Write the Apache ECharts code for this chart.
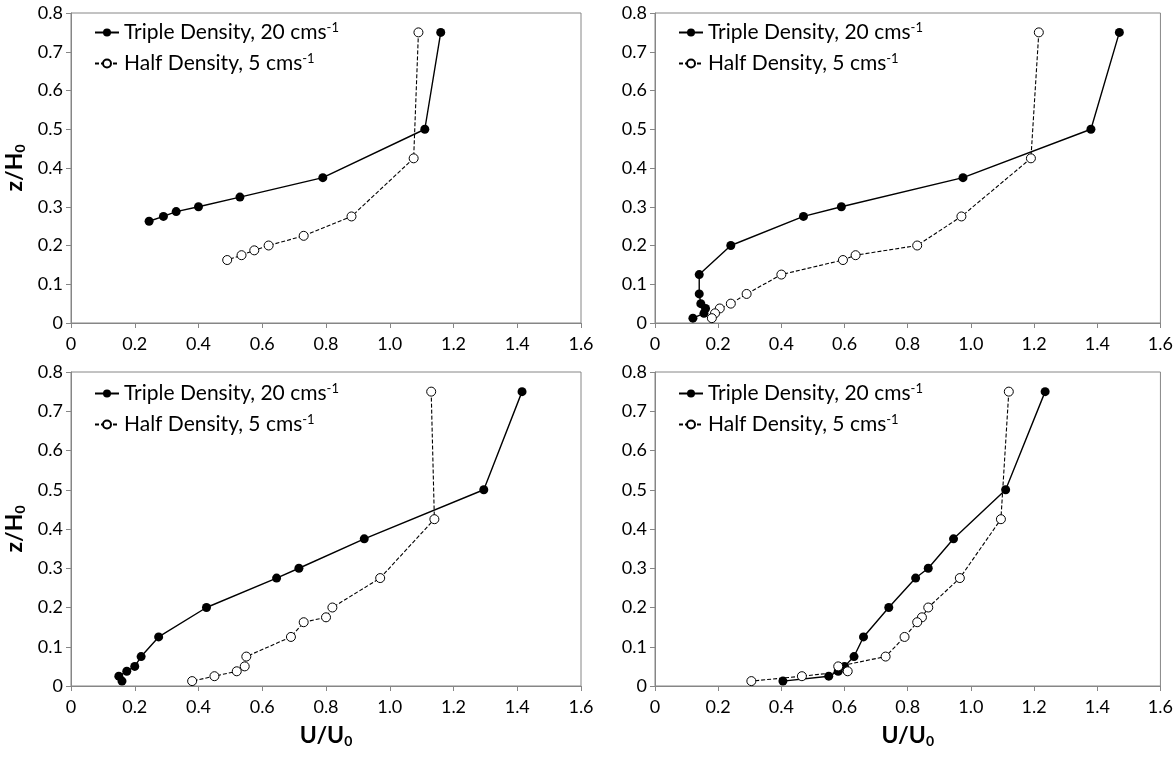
<!DOCTYPE html>
<html>
<head>
<meta charset="utf-8">
<script src="https://cdn.jsdelivr.net/npm/echarts@6/dist/echarts.min.js"></script>
<style>
  html, body { margin: 0; padding: 0; background: #fff; }
  #chart { width: 1176px; height: 757px; }
</style>
</head>
<body>
<div id="chart"></div>
<script>
// panel 1 (top left)
const z1Triple = [0.75, 0.5, 0.375, 0.325, 0.3, 0.2875, 0.275, 0.2625]
const u1Triple = [1.16, 1.11, 0.79, 0.53, 0.40, 0.33, 0.29, 0.245]
const z1Half = [0.75, 0.425, 0.275, 0.225, 0.2, 0.1875, 0.175, 0.1625]
const u1Half = [1.09, 1.075, 0.88, 0.73, 0.62, 0.575, 0.535, 0.49]

// panel 2 (top right)
const z2Triple = [0.75, 0.5, 0.375, 0.3, 0.275, 0.2, 0.125, 0.075, 0.05, 0.0375, 0.025, 0.0125]
const u2Triple = [1.47, 1.38, 0.975, 0.59, 0.47, 0.24, 0.14, 0.14, 0.145, 0.16, 0.155, 0.12]
const z2Half = [0.75, 0.425, 0.275, 0.2, 0.175, 0.1625, 0.125, 0.075, 0.05, 0.0375, 0.025, 0.0125]
const u2Half = [1.215, 1.19, 0.97, 0.83, 0.635, 0.595, 0.40, 0.29, 0.24, 0.205, 0.19, 0.18]

// panel 3 (bottom left)
const z3Triple = [0.75, 0.5, 0.375, 0.3, 0.275, 0.2, 0.125, 0.075, 0.05, 0.0375, 0.025, 0.0125]
const u3Triple = [1.415, 1.295, 0.92, 0.715, 0.645, 0.425, 0.275, 0.22, 0.2, 0.175, 0.15, 0.16]
const z3Half = [0.75, 0.425, 0.275, 0.2, 0.175, 0.1625, 0.125, 0.075, 0.05, 0.0375, 0.025, 0.0125]
const u3Half = [1.13, 1.14, 0.97, 0.82, 0.80, 0.73, 0.69, 0.55, 0.545, 0.52, 0.45, 0.38]

// panel 4 (bottom right)
const z4Triple = [0.75, 0.5, 0.375, 0.3, 0.275, 0.2, 0.125, 0.075, 0.05, 0.0375, 0.025, 0.0125]
const u4Triple = [1.235, 1.11, 0.945, 0.865, 0.825, 0.74, 0.66, 0.63, 0.60, 0.58, 0.55, 0.405]
const z4Half = [0.75, 0.425, 0.275, 0.2, 0.175, 0.1625, 0.125, 0.075, 0.05, 0.0375, 0.025, 0.0125]
const u4Half = [1.12, 1.095, 0.965, 0.865, 0.845, 0.83, 0.79, 0.73, 0.58, 0.61, 0.465, 0.305]

const seriesNames = ['Triple Density, 20 cms', 'Half Density, 5 cms']
const panels = [
  { triple: [u1Triple, z1Triple], half: [u1Half, z1Half] },
  { triple: [u2Triple, z2Triple], half: [u2Half, z2Half] },
  { triple: [u3Triple, z3Triple], half: [u3Half, z3Half] },
  { triple: [u4Triple, z4Triple], half: [u4Half, z4Half] }
]

const FONT = 'Lato'
const AXIS_GRAY = '#868686'
const boxes = [
  { left: 71, top: 13, height: 310 },
  { left: 655, top: 13, height: 310 },
  { left: 71, top: 372, height: 314 },
  { left: 655, top: 372, height: 314 }
]

function pairs (u, z) {
  return u.map((v, i) => [v, z[i]])
}

function tickFmt (v) {
  return v === 0 ? '0' : v.toFixed(1)
}

const subStyle = { fontFamily: FONT, fontSize: 14, fontWeight: 'bold', color: '#000', verticalAlign: 'bottom', padding: [10, 0, 0, 0] }

const chart = echarts.init(document.getElementById('chart'))

const option = {
  animation: false,
  textStyle: { fontFamily: FONT },
  grid: boxes.map(b => ({
    left: b.left, top: b.top, width: 510, height: b.height,
    show: true, borderColor: AXIS_GRAY, borderWidth: 1, containLabel: false
  })),
  legend: boxes.map((b, i) => ({
    data: seriesNames,
    orient: 'vertical',
    left: b.left + 18,
    top: b.top + (i < 2 ? 3 : 5),
    itemWidth: 24,
    itemHeight: 10,
    itemGap: 6,
    selectedMode: false,
    formatter: name => name + '{sup|-1}',
    textStyle: {
      fontFamily: FONT, fontSize: 21, color: '#000', lineHeight: 23,
      rich: {
        sup: { fontFamily: FONT, fontSize: 13, color: '#000', verticalAlign: 'top', lineHeight: 23, padding: [0, 0, 12, 0] }
      }
    }
  })),
  xAxis: boxes.map((b, i) => ({
    type: 'value', gridIndex: i, min: 0, max: 1.6, interval: 0.2,
    name: i >= 2 ? 'U/U{sub|0}' : '',
    nameLocation: 'middle', nameGap: 38,
    nameTextStyle: { fontFamily: FONT, fontSize: 23, fontWeight: 'bold', color: '#000', rich: { sub: subStyle } },
    axisLine: { show: true, onZero: false, lineStyle: { color: AXIS_GRAY } },
    axisTick: { show: true, length: 5, lineStyle: { color: AXIS_GRAY } },
    axisLabel: { fontFamily: FONT, fontSize: 18, color: '#000', margin: 12, formatter: tickFmt },
    splitLine: { show: false }
  })),
  yAxis: boxes.map((b, i) => ({
    type: 'value', gridIndex: i, min: 0, max: 0.8, interval: 0.1,
    name: i % 2 === 0 ? 'z/H{sub|0}' : '',
    nameLocation: 'middle', nameGap: 44, nameRotate: 90,
    nameTextStyle: { fontFamily: FONT, fontSize: 23, fontWeight: 'bold', color: '#000', rich: { sub: subStyle } },
    axisLine: { show: true, onZero: false, lineStyle: { color: AXIS_GRAY } },
    axisTick: { show: true, length: 5, lineStyle: { color: AXIS_GRAY } },
    axisLabel: { fontFamily: FONT, fontSize: 18, color: '#000', margin: 8, formatter: tickFmt },
    splitLine: { show: false }
  })),
  series: []
}

panels.forEach((p, i) => {
  option.series.push({
    name: seriesNames[0], type: 'line', xAxisIndex: i, yAxisIndex: i,
    data: pairs(p.triple[0], p.triple[1]),
    symbol: 'circle', symbolSize: 9,
    itemStyle: { color: '#000' },
    lineStyle: { color: '#000', width: 1.4 }
  })
  option.series.push({
    name: seriesNames[1], type: 'line', xAxisIndex: i, yAxisIndex: i,
    data: pairs(p.half[0], p.half[1]),
    symbol: 'circle', symbolSize: 9,
    itemStyle: { color: '#fff', borderColor: '#000', borderWidth: 1 },
    lineStyle: { color: '#000', width: 1.1, type: [4, 2] }
  })
})

chart.setOption(option)
</script>
</body>
</html>
